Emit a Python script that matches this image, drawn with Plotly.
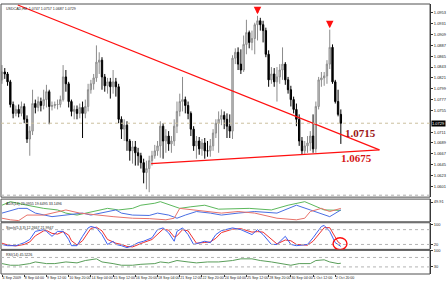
import plotly.graph_objects as go

# ---------------- data ----------------
symbol_title = "USDCAD,H4  1.0747 1.0757 1.0687 1.0729"

opens = [1.0817, 1.0833, 1.0829, 1.0813, 1.0767, 1.0749, 1.0757, 1.0749, 1.0763, 1.0737,
         1.0697, 1.0713, 1.0769, 1.0761, 1.0773, 1.0765, 1.0777, 1.0793, 1.0763, 1.0765,
         1.0767, 1.0767, 1.0777, 1.0823, 1.0809, 1.0773, 1.0753, 1.0757, 1.0749, 1.0761,
         1.0749, 1.0763, 1.0797, 1.0809, 1.0821, 1.0853, 1.0857, 1.0823, 1.0805, 1.0813,
         1.0803, 1.0813, 1.0803, 1.0737, 1.0717, 1.0725, 1.0693, 1.0673, 1.0681, 1.0669,
         1.0663, 1.0649, 1.0629, 1.0637, 1.0653, 1.0663, 1.0673, 1.0683, 1.0723, 1.0693,
         1.0703, 1.0687, 1.0693, 1.0723, 1.0753, 1.0773, 1.0777, 1.0765, 1.0749, 1.0717,
         1.0683, 1.0693, 1.0677, 1.0689, 1.0673, 1.0673, 1.0683, 1.0709, 1.0729, 1.0737,
         1.0745, 1.0737, 1.0723, 1.0713, 1.0861, 1.0873, 1.0849, 1.0837, 1.0889, 1.0913,
         1.0893, 1.0901, 1.0929, 1.0937, 1.0929, 1.0917, 1.0869, 1.0817, 1.0829, 1.0813,
         1.0823, 1.0837, 1.0849, 1.0817, 1.0797, 1.0777, 1.0757, 1.0737, 1.0693, 1.0673,
         1.0683, 1.0689, 1.0703, 1.0677, 1.0763, 1.0817, 1.0821, 1.0825, 1.0849, 1.0883,
         1.0813, 1.0773, 1.0747]
highs = [1.0847, 1.0841, 1.0833, 1.0817, 1.0773, 1.0765, 1.0767, 1.0773, 1.0769, 1.0745,
         1.0723, 1.0797, 1.0777, 1.0783, 1.0781, 1.0797, 1.0807, 1.0797, 1.0773, 1.0773,
         1.0777, 1.0785, 1.0847, 1.0837, 1.0813, 1.0777, 1.0765, 1.0765, 1.0769, 1.0773,
         1.0777, 1.0809, 1.0817, 1.0829, 1.0887, 1.0873, 1.0863, 1.0829, 1.0821, 1.0821,
         1.0837, 1.0821, 1.0809, 1.0743, 1.0737, 1.0733, 1.0697, 1.0693, 1.0693, 1.0679,
         1.0669, 1.0657, 1.0653, 1.0663, 1.0673, 1.0685, 1.0693, 1.0733, 1.0729, 1.0717,
         1.0713, 1.0703, 1.0737, 1.0773, 1.0789, 1.0823, 1.0783, 1.0773, 1.0753, 1.0723,
         1.0703, 1.0701, 1.0697, 1.0699, 1.0693, 1.0697, 1.0717, 1.0737, 1.0753, 1.0757,
         1.0753, 1.0749, 1.0747, 1.0867, 1.0881, 1.0883, 1.0879, 1.0907, 1.0939, 1.0917,
         1.0917, 1.0933, 1.0947, 1.0943, 1.0937, 1.0923, 1.0877, 1.0843, 1.0841, 1.0843,
         1.0849, 1.0883, 1.0853, 1.0823, 1.0805, 1.0783, 1.0769, 1.0747, 1.0701, 1.0693,
         1.0703, 1.0713, 1.0747, 1.0773, 1.0823, 1.0833, 1.0833, 1.0857, 1.0919, 1.0889,
         1.0817, 1.0797, 1.0757]
lows = [1.0809, 1.0819, 1.0805, 1.0761, 1.0739, 1.0743, 1.0741, 1.0743, 1.0729, 1.0689,
        1.0663, 1.0705, 1.0749, 1.0753, 1.0753, 1.0757, 1.0761, 1.0727, 1.0755, 1.0759,
        1.0757, 1.0761, 1.0773, 1.0793, 1.0761, 1.0743, 1.0737, 1.0737, 1.0739, 1.0699,
        1.0739, 1.0753, 1.0789, 1.0797, 1.0813, 1.0829, 1.0797, 1.0793, 1.0789, 1.0779,
        1.0789, 1.0783, 1.0729, 1.0697, 1.0693, 1.0673, 1.0653, 1.0647, 1.0643, 1.0643,
        1.0637, 1.0607, 1.0595, 1.0589, 1.0643, 1.0657, 1.0663, 1.0659, 1.0657, 1.0669,
        1.0673, 1.0669, 1.0683, 1.0709, 1.0743, 1.0753, 1.0749, 1.0737, 1.0703, 1.0673,
        1.0657, 1.0665, 1.0663, 1.0657, 1.0661, 1.0661, 1.0673, 1.0699, 1.0669, 1.0725,
        1.0717, 1.0699, 1.0699, 1.0697, 1.0849, 1.0837, 1.0829, 1.0833, 1.0869, 1.0881,
        1.0877, 1.0869, 1.0897, 1.0917, 1.0893, 1.0863, 1.0803, 1.0809, 1.0803, 1.0773,
        1.0809, 1.0817, 1.0807, 1.0789, 1.0763, 1.0749, 1.0723, 1.0683, 1.0665, 1.0667,
        1.0669, 1.0673, 1.0669, 1.0669, 1.0757, 1.0803, 1.0805, 1.0809, 1.0839, 1.0809,
        1.0769, 1.0743, 1.0687]
closes = [1.0833, 1.0829, 1.0813, 1.0767, 1.0749, 1.0757, 1.0749, 1.0763, 1.0737, 1.0697,
          1.0713, 1.0769, 1.0761, 1.0773, 1.0765, 1.0777, 1.0793, 1.0763, 1.0765, 1.0767,
          1.0767, 1.0777, 1.0823, 1.0809, 1.0773, 1.0753, 1.0757, 1.0749, 1.0761, 1.0749,
          1.0763, 1.0797, 1.0809, 1.0821, 1.0853, 1.0857, 1.0823, 1.0805, 1.0813, 1.0803,
          1.0813, 1.0803, 1.0737, 1.0717, 1.0725, 1.0693, 1.0673, 1.0681, 1.0669, 1.0663,
          1.0649, 1.0629, 1.0637, 1.0653, 1.0663, 1.0673, 1.0683, 1.0723, 1.0693, 1.0703,
          1.0687, 1.0693, 1.0723, 1.0753, 1.0773, 1.0777, 1.0765, 1.0749, 1.0717, 1.0683,
          1.0693, 1.0677, 1.0689, 1.0673, 1.0673, 1.0683, 1.0709, 1.0729, 1.0737, 1.0745,
          1.0737, 1.0723, 1.0713, 1.0861, 1.0873, 1.0849, 1.0837, 1.0889, 1.0913, 1.0893,
          1.0901, 1.0929, 1.0937, 1.0929, 1.0917, 1.0869, 1.0817, 1.0829, 1.0813, 1.0823,
          1.0837, 1.0849, 1.0817, 1.0797, 1.0777, 1.0757, 1.0737, 1.0693, 1.0673, 1.0683,
          1.0689, 1.0703, 1.0677, 1.0763, 1.0817, 1.0821, 1.0825, 1.0849, 1.0883, 1.0813,
          1.0773, 1.0747, 1.0729]

time_label_bars = [0, 8, 16, 24, 32, 40, 48, 56, 64, 72, 80, 88, 96, 104, 112, 120]
time_labels = ["4 Sep 2009", "8 Sep 04:00", "9 Sep 12:00", "10 Sep 20:00", "14 Sep 04:00",
               "15 Sep 12:00", "16 Sep 20:00", "18 Sep 04:00", "21 Sep 12:00", "22 Sep 20:00",
               "24 Sep 04:00", "25 Sep 12:00", "28 Sep 20:00", "30 Sep 04:00", "1 Oct 12:00",
               "2 Oct 20:00"]
price_ticks = [1.0953, 1.0931, 1.0909, 1.0887, 1.0865, 1.0843, 1.0821, 1.0799, 1.0777,
               1.0755, 1.0711, 1.0689, 1.0667, 1.0645, 1.0623, 1.0601]

# trendlines (triangle) and fractal arrows
upper_line_bars = [5.7, 135.9]
upper_line_prices = [1.0969, 1.0675]
lower_line_bars = [53.7, 135.9]
lower_line_prices = [1.0647, 1.0675]
fractal_bars = [92, 118]
fractal_prices = [1.0950, 1.0922]
level_labels = ["1.0715", "1.0675"]

# ADX(14)
adx_bars = [0, 3, 9, 15, 20, 23, 27, 30, 35, 38, 42, 47, 50, 55, 57, 61, 64, 68, 73, 78,
            89, 97, 103, 109, 112, 116, 122]
adx_main = [42, 51, 42, 34, 30, 22, 17, 22, 30, 34, 30, 34, 42, 47, 51, 42, 34, 38, 42, 32,
            34, 30, 42, 51, 42, 30, 29]
di_blue_bars = [0, 6, 9, 12, 18, 23, 29, 32, 38, 41, 43, 47, 53, 56, 60, 63, 66, 70, 75, 79,
                85, 91, 99, 106, 111, 116, 118, 122]
di_blue = [22, 34, 34, 22, 13, 17, 22, 17, 26, 30, 22, 17, 16, 22, 17, 9, 17, 26, 22, 17,
           22, 26, 22, 42, 30, 17, 13, 30]
di_red_bars = [0, 3, 6, 9, 15, 18, 23, 28, 34, 40, 47, 53, 59, 62, 64, 69, 75, 79, 85, 91,
               99, 106, 109, 111, 115, 118, 122]
di_red = [9, 5, 3, 17, 17, 22, 30, 22, 17, 13, 9, 8, 5, 9, 34, 30, 26, 22, 26, 22,
          9, 5, 9, 26, 34, 26, 34]

# Stochastic(5,3,3)
stoch_bars = [0, 2, 5, 8, 10, 12, 15, 16, 18, 20, 22, 24, 25, 27, 29, 31, 32, 34, 36, 38,
              40, 41, 43, 45, 47, 49, 51, 54, 56, 58, 60, 62, 63, 65, 67, 69, 70, 73, 75, 77,
              79, 83, 86, 90, 92, 94, 97, 99, 102, 104, 106, 110, 112, 115, 116, 118, 120,
              121, 122]
stoch_main = [20, 15, 15, 27, 40, 73, 80, 73, 53, 73, 73, 40, 15, 15, 53, 87, 93, 87, 60, 20,
              33, 20, 15, 7, 15, 27, 33, 47, 80, 87, 67, 33, 73, 87, 60, 20, 23, 33, 27, 60,
              76, 87, 80, 60, 80, 60, 20, 20, 53, 20, 15, 20, 47, 93, 97, 73, 27, 20, 12]
stoch_signal = [25, 18, 14, 20, 30, 55, 75, 77, 65, 62, 72, 58, 35, 18, 35, 70, 85, 90, 75, 40,
                28, 25, 20, 12, 10, 20, 28, 40, 62, 82, 78, 50, 55, 80, 75, 40, 25, 28, 30, 45,
                68, 82, 84, 70, 72, 70, 40, 22, 38, 35, 20, 17, 33, 75, 88, 88, 50, 30, 22]

# RSI(14)
rsi_bars = [0, 3, 6, 10, 12, 16, 19, 23, 27, 30, 34, 36, 40, 43, 47, 50, 55, 57, 60, 63,
            67, 70, 74, 78, 83, 86, 90, 93, 97, 100, 104, 107, 111, 113, 116, 118, 121, 122]
rsi_values = [44, 37, 37, 44, 51, 44, 44, 51, 47, 57, 64, 51, 44, 37, 37, 41, 44, 51, 47, 57,
              51, 47, 51, 51, 57, 64, 64, 57, 51, 44, 37, 44, 44, 57, 60, 51, 44, 45.5]

# ---------------- figure ----------------
bars = list(range(len(closes)))
small = dict(family="Liberation Sans", size=4, color="#222222")
tiny = dict(family="Liberation Sans", size=3.6, color="#222222")

fig = go.Figure()
fig.add_trace(go.Candlestick(
    x=bars, open=opens, high=highs, low=lows, close=closes,
    xaxis="x", yaxis="y", whiskerwidth=0,
    increasing=dict(line=dict(color="#8c8c8c", width=1), fillcolor="#d2d2d2"),
    decreasing=dict(line=dict(color="#000000", width=1), fillcolor="#000000"),
    hoverinfo="skip", showlegend=False))
fig.add_trace(go.Scatter(x=upper_line_bars, y=upper_line_prices, mode="lines", yaxis="y",
                         line=dict(color="#ff1010", width=1.3), showlegend=False, hoverinfo="skip"))
fig.add_trace(go.Scatter(x=lower_line_bars, y=lower_line_prices, mode="lines", yaxis="y",
                         line=dict(color="#ff1010", width=1.3), showlegend=False, hoverinfo="skip"))

fig.add_trace(go.Scatter(x=adx_bars, y=adx_main, mode="lines", yaxis="y2",
                         line=dict(color="#5cb85c", width=1), showlegend=False, hoverinfo="skip"))
fig.add_trace(go.Scatter(x=di_blue_bars, y=di_blue, mode="lines", yaxis="y2",
                         line=dict(color="#4a6fe3", width=1), showlegend=False, hoverinfo="skip"))
fig.add_trace(go.Scatter(x=di_red_bars, y=di_red, mode="lines", yaxis="y2",
                         line=dict(color="#e8736b", width=1), showlegend=False, hoverinfo="skip"))

fig.add_trace(go.Scatter(x=stoch_bars, y=stoch_signal, mode="lines", yaxis="y3",
                         line=dict(color="#f03030", width=1), showlegend=False, hoverinfo="skip"))
fig.add_trace(go.Scatter(x=stoch_bars, y=stoch_main, mode="lines", yaxis="y3",
                         line=dict(color="#3c5ff0", width=1), showlegend=False, hoverinfo="skip"))

fig.add_trace(go.Scatter(x=rsi_bars, y=rsi_values, mode="lines", yaxis="y4",
                         line=dict(color="#5a9e5a", width=1), showlegend=False, hoverinfo="skip"))

annotations = []
for b, p in zip(fractal_bars, fractal_prices):
    annotations.append(dict(x=b, y=p, xref="x", yref="y", text="", showarrow=True,
                            ax=0, ay=-8, arrowhead=2, arrowsize=0.75, arrowwidth=2,
                            arrowcolor="#ff1010"))
annotations.append(dict(x=122.8, y=1.0710, xref="x", yref="y", text=f"<b>{level_labels[0]}</b>",
                        showarrow=False, xanchor="left", yanchor="middle",
                        font=dict(family="Liberation Serif", size=11, color="#9a1414")))
annotations.append(dict(x=121.4, y=1.0658, xref="x", yref="y", text=f"<b>{level_labels[1]}</b>",
                        showarrow=False, xanchor="left", yanchor="middle",
                        font=dict(family="Liberation Serif", size=11, color="#d41414")))
annotations.append(dict(x=0.006, y=0.995, xref="paper", yref="y domain", text=symbol_title,
                        showarrow=False, xanchor="left", yanchor="top", font=tiny))
annotations.append(dict(x=0.006, y=0.97, xref="paper", yref="y2 domain",
                        text="ADX(14) 29.0955 19.6495 33.1496",
                        showarrow=False, xanchor="left", yanchor="top", font=tiny))
annotations.append(dict(x=0.006, y=0.97, xref="paper", yref="y3 domain",
                        text="Stoch(5,3,3) 12.2667 21.9947",
                        showarrow=False, xanchor="left", yanchor="top", font=tiny))
annotations.append(dict(x=0.006, y=0.97, xref="paper", yref="y4 domain",
                        text="RSI(14) 45.5226",
                        showarrow=False, xanchor="left", yanchor="top", font=tiny))
annotations.append(dict(x=1.0, y=closes[-1], xref="paper", yref="y", text=f"{closes[-1]:.4f}",
                        showarrow=False, xanchor="left", yanchor="middle", bgcolor="#000000",
                        borderpad=0, xshift=1, font=dict(family="Liberation Sans", size=4, color="#ffffff")))

shapes = []
for yr in ["y", "y2", "y3", "y4"]:
    shapes.append(dict(type="rect", xref="paper", yref=f"{yr} domain", x0=0, x1=1, y0=0, y1=1,
                       line=dict(color="#505050", width=1)))
shapes.append(dict(type="line", xref="paper", yref="y", x0=0, x1=1, y0=closes[-1], y1=closes[-1],
                   line=dict(color="#cbbf9f", width=1, dash="dot")))
shapes.append(dict(type="line", xref="paper", yref="y domain", x0=0, x1=1, y0=0.01, y1=0.01,
                   line=dict(color="#b0b0b0", width=1, dash="dot")))
for lvl, yr in [(20, "y3"), (80, "y3"), (30, "y4"), (70, "y4")]:
    shapes.append(dict(type="line", xref="paper", yref=yr, x0=0, x1=1, y0=lvl, y1=lvl,
                       line=dict(color="#b4b4b4", width=1, dash="dot")))
shapes.append(dict(type="circle", xref="x", yref="y3", x0=119.2, x1=124.2, y0=-1, y1=47,
                   line=dict(color="#ff1010", width=1.4)))

yax_common = dict(side="right", anchor="x", showgrid=False, zeroline=False, ticks="outside",
                  ticklen=2, tickcolor="#333", tickfont=small, showline=True,
                  linecolor="#222", linewidth=1, fixedrange=True)

fig.update_layout(
    width=448, height=281,
    margin=dict(l=1, r=13, t=1, b=6),
    paper_bgcolor="white", plot_bgcolor="white",
    showlegend=False,
    xaxis=dict(domain=[0, 1], range=[-0.36, 154.1], anchor="y4",
               tickvals=time_label_bars, ticktext=time_labels, tickangle=0,
               ticklabelposition="outside right", ticks="outside", ticklen=2,
               tickcolor="#333", tickfont=tiny, showgrid=False, zeroline=False,
               showline=False, rangeslider=dict(visible=False)),
    yaxis=dict(domain=[0.2847, 1.0], range=[1.0579, 1.0971], tickvals=price_ticks,
               ticktext=[f"{v:.4f}" for v in price_ticks], **yax_common),
    yaxis2=dict(domain=[0.1934, 0.2774], range=[0, 57.5], tickvals=[50],
                ticktext=["49.91"], **yax_common),
    yaxis3=dict(domain=[0.0912, 0.1898], range=[0, 108], tickvals=[100, 20],
                **yax_common),
    yaxis4=dict(domain=[0, 0.0876], range=[0, 100], tickvals=[100, 30],
                **yax_common),
    annotations=annotations,
    shapes=shapes,
)

fig.write_html("out.html")
